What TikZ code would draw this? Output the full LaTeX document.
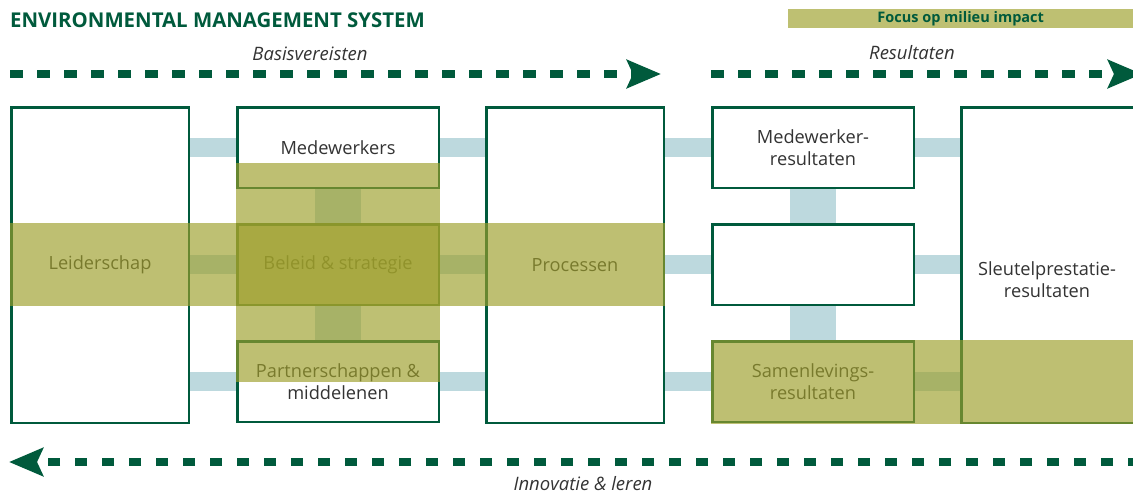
\documentclass[tikz,border=0pt]{standalone}
\usepackage{fontspec}
\setmainfont{Open Sans}
\usetikzlibrary{positioning,arrows.meta,backgrounds}
\definecolor{emsgreen}{RGB}{0,90,60}
\definecolor{linkblue}{RGB}{189,217,222}
\definecolor{focusolive}{RGB}{157,159,42}
\definecolor{txtgray}{RGB}{51,51,51}

\begin{document}
\begin{tikzpicture}[x=1pt,y=-1pt]
    \tikzstyle{box}=[draw=emsgreen, line width=2.5pt, fill=white, text=txtgray, align=center, inner sep=0pt, font=\fontsize{18.2}{22}\selectfont]
    \tikzstyle{widebox}=[box, minimum width=177.5pt, minimum height=315.5pt]
    \tikzstyle{smallbox}=[box, minimum width=201.5pt, minimum height=80.5pt]
    \tikzstyle{link}=[linkblue, line width=19pt]
    \tikzstyle{vlink}=[linkblue, line width=46pt]
    \tikzstyle{focus}=[fill=focusolive, fill opacity=0.66]
    \tikzstyle{flow}=[emsgreen, line width=7.5pt, dash pattern=on 12.5pt off 14.5pt, -{Stealth[length=34pt,width=28pt,inset=6pt]}]
    \tikzstyle{caption}=[text=txtgray, inner sep=0pt, font=\fontsize{18.5}{20}\selectfont\itshape]

    \useasboundingbox (0,0) rectangle (1133,495);
    \clip (0,0) rectangle (1133,495);

    % heading
    \node[anchor=west, inner sep=0pt, text=emsgreen, font=\bfseries\fontsize{20.4}{24}\selectfont] (title) at (10,20) {ENVIRONMENTAL MANAGEMENT SYSTEM};
    \node[anchor=north west, inner sep=0pt, fill=focusolive!66!white, minimum width=345pt, minimum height=19pt, text=emsgreen, font=\bfseries\fontsize{14.5}{16}\selectfont] (focusbar) at (788,9) {Focus op milieu impact};

    % left half: basisvereisten
    \node[widebox, anchor=north west] (lead) at (10,106) {Leiderschap};
    \node[smallbox, right=46pt of lead.north east, anchor=north west] (med) {Medewerkers};
    \node[smallbox, below=34pt of med] (beleid) {Beleid \& strategie};
    \node[smallbox, below=34pt of beleid] (partner) {Partnerschappen \&\\middelenen};
    \node[widebox, right=45pt of med.north east, anchor=north west] (proc) {Processen};

    % right half: resultaten
    \node[smallbox, right=46pt of proc.north east, anchor=north west] (mres) {Medewerker-\\resultaten};
    \node[smallbox, below=34pt of mres] (mid) {};
    \node[smallbox, below=34pt of mid] (sres) {Samenlevings-\\resultaten};
    \node[box, minimum width=250pt, minimum height=315.5pt, right=45pt of mres.north east, anchor=north west] (key) {};
    \node[text=txtgray, align=center, inner sep=0pt, font=\fontsize{18.2}{22}\selectfont] (keytxt) at (1047,280) {Sleutelprestatie-\\resultaten};

    \begin{scope}[on background layer]
        \draw[link] (lead.east |- med.west) -- (med.west);
        \draw[link] (lead.east |- beleid.west) -- (beleid.west);
        \draw[link] (lead.east |- partner.west) -- (partner.west);
        \draw[link] (med.east) -- (proc.west |- med.east);
        \draw[link] (beleid.east) -- (proc.west |- beleid.east);
        \draw[link] (partner.east) -- (proc.west |- partner.east);
        \draw[link] (proc.east |- mres.west) -- (mres.west);
        \draw[link] (proc.east |- mid.west) -- (mid.west);
        \draw[link] (proc.east |- sres.west) -- (sres.west);
        \draw[link] (mres.east) -- (key.west |- mres.east);
        \draw[link] (mid.east) -- (key.west |- mid.east);
        \draw[link] (sres.east) -- (key.west |- sres.east);
        \draw[vlink] (med.south) -- (beleid.north);
        \draw[vlink] (beleid.south) -- (partner.north);
        \draw[vlink] (mres.south) -- (mid.north);
        \draw[vlink] (mid.south) -- (sres.north);
    \end{scope}

    % focus op milieu impact
    \fill[focus] (lead.west |- beleid.north) rectangle (proc.east |- beleid.south);
    \fill[focus] (236,163) rectangle (440,382);
    \fill[focus] (sres.north west) rectangle (key.south east);

    % flow arrows
    \coordinate (basisstart) at (10,74);
    \coordinate (basisend) at (661,74);
    \coordinate (resstart) at (711,74);
    \coordinate (resend) at (1142,74);
    \coordinate (innostart) at (1140,462);
    \coordinate (innoend) at (9,462);
    \draw[flow] (basisstart) -- (basisend);
    \draw[flow] (resstart) -- (resend);
    \draw[flow] (innostart) -- (innoend);

    \node[caption] (basis) at (310,54) {Basisvereisten};
    \node[caption] (result) at (912,53) {Resultaten};
    \node[caption, anchor=base] (inno) at (583,490) {Innovatie \& leren};
\end{tikzpicture}
\end{document}
